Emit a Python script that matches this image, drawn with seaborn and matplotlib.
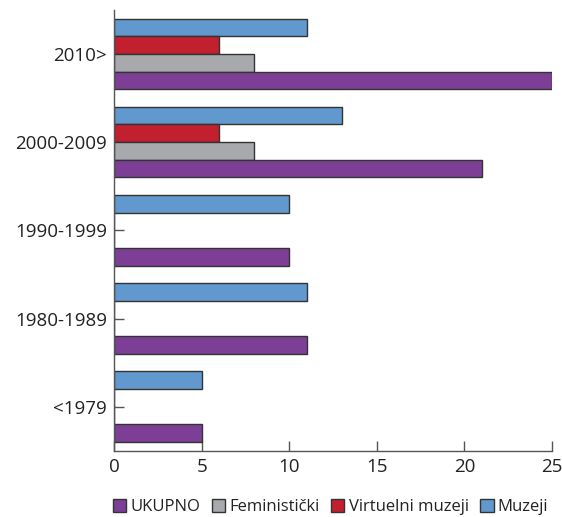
import pandas as pd
import numpy as np
import matplotlib.pyplot as plt
import seaborn as sns
from matplotlib.patches import Patch

sns.set_theme(style="white")
plt.rcParams['font.family'] = ['Open Sans', 'DejaVu Sans']

# Data
periods = ['2010>', '2000-2009', '1990-1999', '1980-1989', '<1979']
muzeji = [11, 13, 10, 11, 5]
virtuelni = [6, 6, 0, 0, 0]
feministicki = [8, 8, 0, 0, 0]
ukupno = [25, 21, 10, 11, 5]

series = ['Muzeji', 'Virtuelni muzeji', 'Feministički', 'UKUPNO']
colors = {'Muzeji': '#6199CF', 'Virtuelni muzeji': '#C21F2F',
          'Feministički': '#A7A9AC', 'UKUPNO': '#7D3F96'}

df = pd.DataFrame({'period': periods, 'Muzeji': muzeji, 'Virtuelni muzeji': virtuelni,
                   'Feministički': feministicki, 'UKUPNO': ukupno})
long_df = df.melt(id_vars='period', var_name='serija', value_name='broj')

fig = plt.figure(figsize=(5.62, 5.17), dpi=100)
ax = fig.add_axes([0.203, 0.128, 0.779, 0.853])

sns.barplot(data=long_df, y='period', x='broj', hue='serija', order=periods,
            hue_order=series, palette=colors, orient='h', width=0.8,
            edgecolor='#333333', linewidth=1.0, saturation=1, ax=ax, legend=False)

ax.set_xlim(0, 25)
ax.set_ylim(4.5, -0.5)
ax.set_xticks([0, 5, 10, 15, 20, 25])
ax.set_xlabel('')
ax.set_ylabel('')
for s in ['top', 'right']:
    ax.spines[s].set_visible(False)
for s in ['left', 'bottom']:
    ax.spines[s].set_color('#555555')
    ax.spines[s].set_linewidth(1.0)
ax.tick_params(axis='both', direction='in', length=7, width=1, color='#555555',
               labelsize=13.5, labelcolor='#222222', left=True, bottom=True)
ax.tick_params(axis='x', pad=5)
ax.tick_params(axis='y', pad=5)

handles = [Patch(facecolor=colors[s], edgecolor='#333333', linewidth=1.0) for s in series[::-1]]
fig.legend(handles, series[::-1], loc='lower center', bbox_to_anchor=(0.588, -0.025),
           ncol=4, frameon=False, fontsize=12, handlelength=0.8, handleheight=0.8,
           handletextpad=0.25, columnspacing=0.7, labelcolor='#222222')

fig.savefig('out.png', dpi=100)
